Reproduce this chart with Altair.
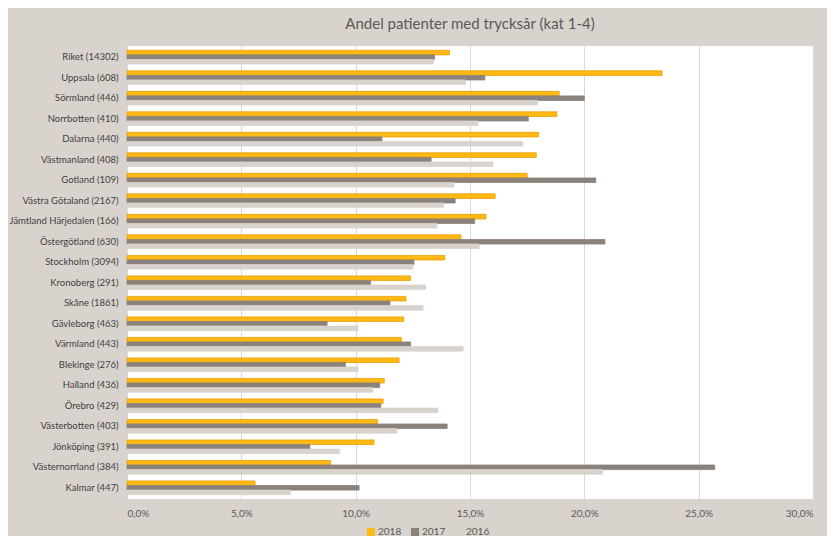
import altair as alt
import pandas as pd

regions = ["Riket (14302)", "Uppsala (608)", "Sörmland (446)", "Norrbotten (410)", "Dalarna (440)",
           "Västmanland (408)", "Gotland (109)", "Västra Götaland (2167)", "Jämtland Härjedalen (166)",
           "Östergötland (630)", "Stockholm (3094)", "Kronoberg (291)", "Skåne (1861)", "Gävleborg (463)",
           "Värmland (443)", "Blekinge (276)", "Halland (436)", "Örebro (429)", "Västerbotten (403)",
           "Jönköping (391)", "Västernorrland (384)", "Kalmar (447)"]
years = ["2018", "2017", "2016"]
v2018 = [14.1, 23.4, 18.9, 18.8, 18.0, 17.9, 17.5, 16.1, 15.7, 14.6, 13.9, 12.4, 12.2, 12.1,
         12.0, 11.9, 11.25, 11.2, 10.95, 10.8, 8.9, 5.6]
v2017 = [13.45, 15.65, 20.0, 17.55, 11.15, 13.3, 20.5, 14.35, 15.2, 20.9, 12.55, 10.65, 11.5, 8.75,
         12.4, 9.55, 11.05, 11.1, 14.0, 8.0, 25.7, 10.15]
v2016 = [13.4, 14.8, 17.95, 15.35, 17.3, 16.0, 14.3, 13.85, 13.55, 15.4, 12.5, 13.05, 12.95, 10.1,
         14.7, 10.1, 10.75, 13.6, 11.8, 9.3, 20.8, 7.15]

rows = []
for i, r in enumerate(regions):
    for y, vals in zip(years, [v2018, v2017, v2016]):
        rows.append({"region": r, "year": y, "value": vals[i]})
df = pd.DataFrame(rows)

FONT = "Lato"
TXT = "#595959"

chart = alt.Chart(df).mark_bar(strokeWidth=0.8).encode(
    y=alt.Y("region:N", sort=regions, title=None,
            scale=alt.Scale(paddingInner=0.33, paddingOuter=0.21),
            axis=alt.Axis(domain=False, ticks=False, labelPadding=9, labelFont=FONT,
                          labelFontSize=9.5, labelColor="#3f3f3f", labelLimit=200)),
    yOffset=alt.YOffset("year:N", sort=years, scale=alt.Scale(paddingInner=0, paddingOuter=0)),
    x=alt.X("value:Q", title=None,
            scale=alt.Scale(domain=[0, 30], nice=False, zero=True),
            axis=alt.Axis(values=[0, 5, 10, 15, 20, 25, 30], domain=False, ticks=False,
                          grid=True, gridColor="#d9d9d9", gridWidth=1,
                          labelExpr="replace(format(datum.value, '.1f'), '.', ',') + '%'",
                          labelFont=FONT, labelFontSize=10, labelColor=TXT, labelPadding=9)),
    color=alt.Color("year:N", sort=years,
                    scale=alt.Scale(domain=years, range=["#ffb916", "#8c827c", "#d9d3cd"]),
                    legend=alt.Legend(title=None, orient="none", direction="horizontal",
                                      legendX=239, legendY=481, symbolType="square",
                                      symbolSize=64, symbolStrokeWidth=0, labelFont=FONT,
                                      labelFontSize=10, labelColor=TXT, labelOffset=2,
                                      columnPadding=8)),
    stroke=alt.Stroke("year:N", sort=years,
                      scale=alt.Scale(domain=years, range=["#eb9e00", "#8c827c", "#d9d3cd"]),
                      legend=None),
).properties(
    width=686, height=453,
    title=alt.TitleParams("Andel patienter med trycksår (kat 1-4)", font=FONT, fontSize=15,
                          fontWeight="normal", color=TXT, anchor="middle", offset=14),
    background="#d9d3cd",
    padding={"left": 119, "top": 38, "right": 14, "bottom": 37},
    autosize=alt.AutoSizeParams(type="none"),
).configure_view(fill="white", stroke=None)

chart.save("out.html", embed_options={"renderer": "svg", "actions": False})
